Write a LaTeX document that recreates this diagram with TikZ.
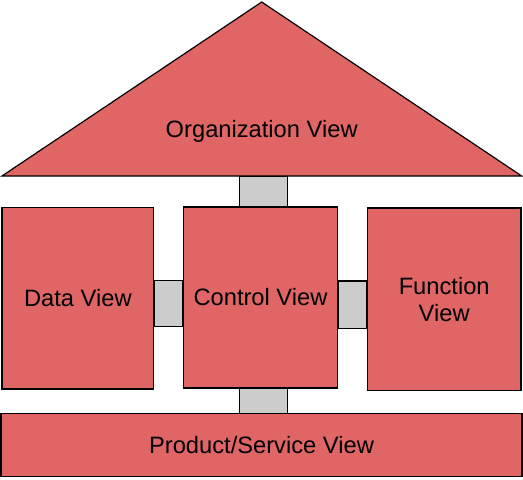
\documentclass[tikz,border=0pt]{standalone}
\usepackage{fontspec}
\setmainfont{Liberation Sans}
\usetikzlibrary{positioning}
\usetikzlibrary{backgrounds}
\definecolor{viewred}{RGB}{224,102,102}
\definecolor{linkgray}{RGB}{204,204,204}
\tikzset{view/.style = {draw, fill=viewred, line width=1.2pt, align=center,
                        inner sep=0, font=\fontsize{23.7}{27}\selectfont}}
\tikzset{link/.style = {draw, fill=linkgray, line width=1.2pt}}

\begin{document}
\begin{tikzpicture}[x=1pt,y=-1pt]
      \useasboundingbox (0,0) rectangle (523,480);

      % roof
      \coordinate (apex) at (261.7,2);
      \coordinate (roofL) at (2,176);
      \coordinate (roofR) at (521.7,176);
      \draw[view] (roofL) -- (apex) -- (roofR) -- cycle;
      \node[font=\fontsize{23.7}{27}\selectfont] (org) at (261.7,131) {Organization View};

      % pillars
      \node[view, minimum width=151.7, minimum height=181.3] (data) at (77.9,298.3) {Data View};
      \node[view, minimum width=154.4, minimum height=181] (ctrl) at (260.5,297.5) {Control View};
      \node[view, minimum width=153.7, minimum height=182.7] (func) at (444.2,299.4) {Function\\View};

      % base
      \node[view, minimum width=521, minimum height=63] (prod) at (261.5,445.2) {Product/Service View};

      % links
      \begin{scope}[on background layer]
        \draw[link] ([xshift=-21pt]ctrl.north |- roofL) rectangle ([xshift=27pt]ctrl.north);
        \draw[link] ([yshift=18pt]data.east) rectangle ([yshift=-28pt]data.east -| ctrl.west);
        \draw[link] ([yshift=16.5pt]ctrl.east) rectangle ([yshift=-31pt]ctrl.east -| func.west);
        \draw[link] ([xshift=-21pt]ctrl.south) rectangle ([xshift=27pt]ctrl.south |- prod.north);
      \end{scope}
    \end{tikzpicture}
\end{document}
